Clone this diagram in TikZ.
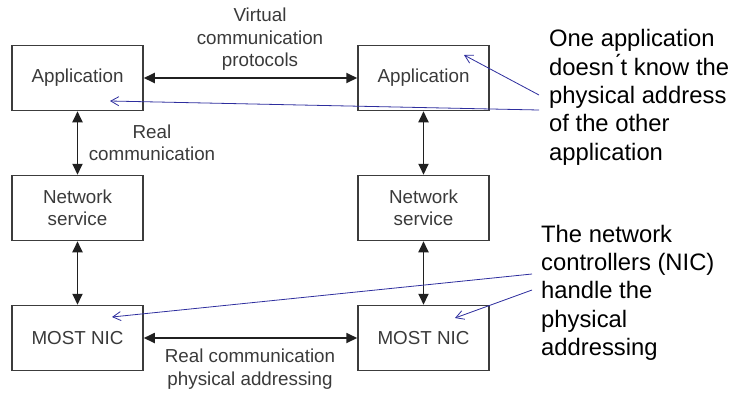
\documentclass[tikz,border=0pt]{standalone}
\usepackage{fontspec}
\setmainfont{Liberation Sans}
\usetikzlibrary{arrows.meta}
\definecolor{boxline}{HTML}{3C3C3C}
\definecolor{boxtext}{HTML}{3A3A3A}
\definecolor{linkcol}{HTML}{202020}
\definecolor{notecol}{HTML}{2E2E9E}
\begin{document}
\begin{tikzpicture}[x=1pt,y=-1pt,
  layerbox/.style={draw=boxline, line width=1.5pt, minimum width=131pt,
    minimum height=65pt, inner sep=0pt, align=center, text=boxtext,
    font=\fontsize{18.8}{22.5}\selectfont},
  link/.style={draw=linkcol, line width=1.8pt,
    {Triangle[length=11pt,width=10pt]}-{Triangle[length=11pt,width=10pt]}},
  captxt/.style={align=center, text=boxtext, inner sep=0pt,
    font=\fontsize{18.8}{22.5}\selectfont},
  note/.style={align=left, anchor=north west, inner sep=0pt,
    font=\fontsize{23.8}{28.4}\selectfont},
  pointer/.style={draw=notecol, line width=0.8pt,
    -{Straight Barb[length=8pt,width=9pt]}}
]
\useasboundingbox (0,0) rectangle (736,392);

% protocol layers, left station
\node[layerbox] (la) at (77.5,78)  {Application};
\node[layerbox] (ls) at (77.5,208) {Network\\service};
\node[layerbox] (ln) at (77.5,338) {MOST NIC};
% protocol layers, right station
\node[layerbox] (ra) at (423.5,78)  {Application};
\node[layerbox] (rs) at (423.5,208) {Network\\service};
\node[layerbox] (rn) at (423.5,338) {MOST NIC};

% communication paths
\draw[link] (la) -- (ra);
\draw[link] (ln) -- (rn);
\draw[link] (la) -- (ls);
\draw[link] (ls) -- (ln);
\draw[link] (ra) -- (rs);
\draw[link] (rs) -- (rn);

% path captions
\node[captxt] (virt)  at (260,39.5) {Virtual\\communication\\protocols};
\node[captxt] (realc) at (152,143)  {Real\\communication};
\node[captxt] (realp) at (250,369)  {Real communication\\physical addressing};

% side notes
\node[note] (note1) at (549,29.3) {One application\\doesn\'{}t know the\\physical address\\of the other\\application};
\node[note] (note2) at (541,224.7) {The network\\controllers (NIC)\\handle the\\physical\\addressing};

% note pointers
\coordinate (p1s) at (539,110);  \coordinate (p1e) at (110,101);
\coordinate (p2s) at (539,95);   \coordinate (p2e) at (464,55);
\coordinate (p3s) at (532,274);  \coordinate (p3e) at (112,317);
\coordinate (p4s) at (532,290);  \coordinate (p4e) at (455,318);
\draw[pointer] (p1s) -- (p1e);
\draw[pointer] (p2s) -- (p2e);
\draw[pointer] (p3s) -- (p3e);
\draw[pointer] (p4s) -- (p4e);
\end{tikzpicture}
\end{document}
